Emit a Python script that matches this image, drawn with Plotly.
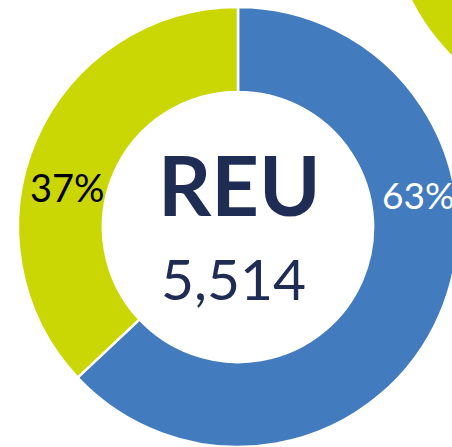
import plotly.graph_objects as go

# ---- data ----
categories = ["Segment A", "Segment B"]
values = [3474, 2040]          # total 5,514 -> 63% / 37%
center_label = "REU"
colors = ["#427BBE", "#CBD605"]
label_colors = ["white", "black"]

# ---- layout geometry (pixels, page coordinates) ----
W, H = 460, 447                 # slightly wider than window so the donut bleeds off the right edge
CX, CY, R = 238, 227, 220       # donut center / outer radius
HOLE = 0.614

total = sum(values)
pcts = [round(100 * v / total) for v in values]

fig = go.Figure()
fig.add_trace(go.Pie(
    labels=categories,
    values=values,
    hole=HOLE,
    sort=False,
    direction="clockwise",
    rotation=0,
    marker=dict(colors=colors, line=dict(color="white", width=2.5)),
    textinfo="none",
    hoverinfo="skip",
    showlegend=False,
    domain=dict(x=[(CX - R) / W, min(1, (CX + R) / W)],
                y=[max(0, 1 - (CY + R) / H), 1 - (CY - R) / H]),
))

def px(x, y):
    return x / W, 1 - y / H

label_pos = [(380, 195), (28, 187)]   # left edge, vertical middle
label_sizes = [37, 38]
annotations = []
for p, c, (lx, ly), s in zip(pcts, label_colors, label_pos, label_sizes):
    ax, ay = px(lx, ly)
    annotations.append(dict(x=ax, y=ay, xref="paper", yref="paper", text=f"{p}%",
                            xanchor="left", yanchor="middle", showarrow=False,
                            font=dict(family="Lato", size=s, color=c)))
ax, ay = px(239, 184)
annotations.append(dict(x=ax, y=ay, xref="paper", yref="paper", text=f"<b>{center_label}</b>",
                        xanchor="center", yanchor="middle", showarrow=False,
                        font=dict(family="Lato", size=83, color="#1F2C53")))
ax, ay = px(233.5, 278)
annotations.append(dict(x=ax, y=ay, xref="paper", yref="paper", text=f"{total:,}",
                        xanchor="center", yanchor="middle", showarrow=False,
                        font=dict(family="Lato", size=57, color="#1F2C53")))

# fragment of the neighbouring donut (top-right corner)
NX, NY, NR = 608, -100, 220
shapes = [dict(type="circle", xref="paper", yref="paper",
               x0=(NX - NR) / W, x1=(NX + NR) / W,
               y0=1 - (NY + NR) / H, y1=1 - (NY - NR) / H,
               fillcolor="#CBD605", line=dict(width=0), layer="below")]

fig.update_layout(
    width=W, height=H,
    margin=dict(l=0, r=0, t=0, b=0),
    paper_bgcolor="white", plot_bgcolor="white",
    annotations=annotations,
    shapes=shapes,
)
fig.write_html(
    "out.html",
    config={"displayModeBar": False},
    post_script="document.documentElement.style.overflow='hidden';"
                "document.body.style.margin='0';document.body.style.overflow='hidden';",
)
